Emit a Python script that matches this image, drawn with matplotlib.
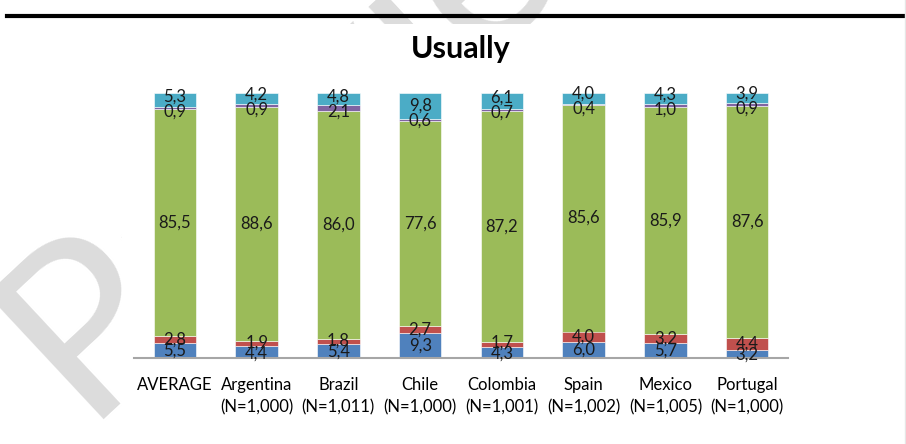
import matplotlib.pyplot as plt
from matplotlib.patches import Rectangle
from matplotlib.lines import Line2D
import numpy as np

plt.rcParams['font.family'] = ['Lato', 'DejaVu Sans']

# data (percent, stacked bottom -> top)
countries = ["AVERAGE", "Argentina\n(N=1,000)", "Brazil\n(N=1,011)", "Chile\n(N=1,000)",
             "Colombia\n(N=1,001)", "Spain\n(N=1,002)", "Mexico\n(N=1,005)", "Portugal\n(N=1,000)"]
seg_blue = [5.5, 4.4, 5.4, 9.3, 4.3, 6.0, 5.7, 3.2]
seg_red = [2.8, 1.9, 1.8, 2.7, 1.7, 4.0, 3.2, 4.4]
seg_green = [85.5, 88.6, 86.0, 77.6, 87.2, 85.6, 85.9, 87.6]
seg_purple = [0.9, 0.9, 2.1, 0.6, 0.7, 0.4, 1.0, 0.9]
seg_cyan = [5.3, 4.2, 4.8, 9.8, 6.1, 4.0, 4.3, 3.9]

segments = [seg_blue, seg_red, seg_green, seg_purple, seg_cyan]
colors = ["#4F81BD", "#C0504D", "#9BBB59", "#8064A2", "#4BACC6"]

W, H = 906, 444
fig = plt.figure(figsize=(W / 100, H / 100), dpi=100)

# faint watermark behind the chart area
fig.text(82 / W, 1 - 420 / H, "Preview", rotation=43, rotation_mode="anchor",
         ha="left", va="baseline", fontsize=172, color="#dcdcdc", zorder=-3)
# white chart area covering the watermark
fig.patches.append(Rectangle((122 / W, 1 - 440 / H), (900 - 122) / W, (440 - 24) / H,
                             transform=fig.transFigure, facecolor="white",
                             edgecolor="none", zorder=-2))
# page rule at the top and light edge on the right
fig.lines.append(Line2D([7 / W, 1], [1 - 16 / H, 1 - 16 / H], transform=fig.transFigure,
                        color="black", lw=3, zorder=5))
fig.lines.append(Line2D([904.5 / W, 904.5 / W], [0, 1], transform=fig.transFigure,
                        color="#e6e6e6", lw=1, zorder=5))

ax = fig.add_axes([134 / W, 1 - 358 / H, (788 - 134) / W, (358 - 93) / H])
ax.set_facecolor("none")
px = 100 / (358 - 93)  # one pixel in data units

x = np.arange(len(countries))
bottom = np.zeros(len(countries))
centers = []
for vals, col in zip(segments, colors):
    vals = np.array(vals)
    ax.bar(x, vals, 0.52, bottom=bottom, color=col, edgecolor="white", linewidth=0.4)
    centers.append(bottom + vals / 2)
    bottom += vals

# spread crowded labels apart (like the spreadsheet does)
ypos = [c.copy() for c in centers]
for lo, hi, gap in [(0, 1, 11), (3, 4, 15)]:
    sep = ypos[hi] - ypos[lo]
    need = np.clip(gap * px - sep, 0, None) / 2
    ypos[lo] = ypos[lo] - need
    ypos[hi] = ypos[hi] + need

for vals, yy in zip(segments, ypos):
    for xi, v, y in zip(x, vals, yy):
        ax.text(xi, y, f"{v:.1f}".replace(".", ","), ha="center", va="center",
                fontsize=12, color="#1a1a1a")

ax.set_xlim(-0.5, len(countries) - 0.5)
ax.set_ylim(0, 100)
ax.set_xticks(x)
ax.set_xticklabels(countries, fontsize=12, linespacing=1.45)
ax.tick_params(axis="x", length=0, pad=14)
ax.set_yticks([])
for side in ["top", "right", "left"]:
    ax.spines[side].set_visible(False)
ax.spines["bottom"].set_color("#a6a6a6")
ax.spines["bottom"].set_linewidth(1.5)

fig.text(461 / W, 1 - 49 / H, "Usually", ha="center", va="center",
         fontsize=22, fontweight="bold")

fig.savefig("out.png", dpi=100)
